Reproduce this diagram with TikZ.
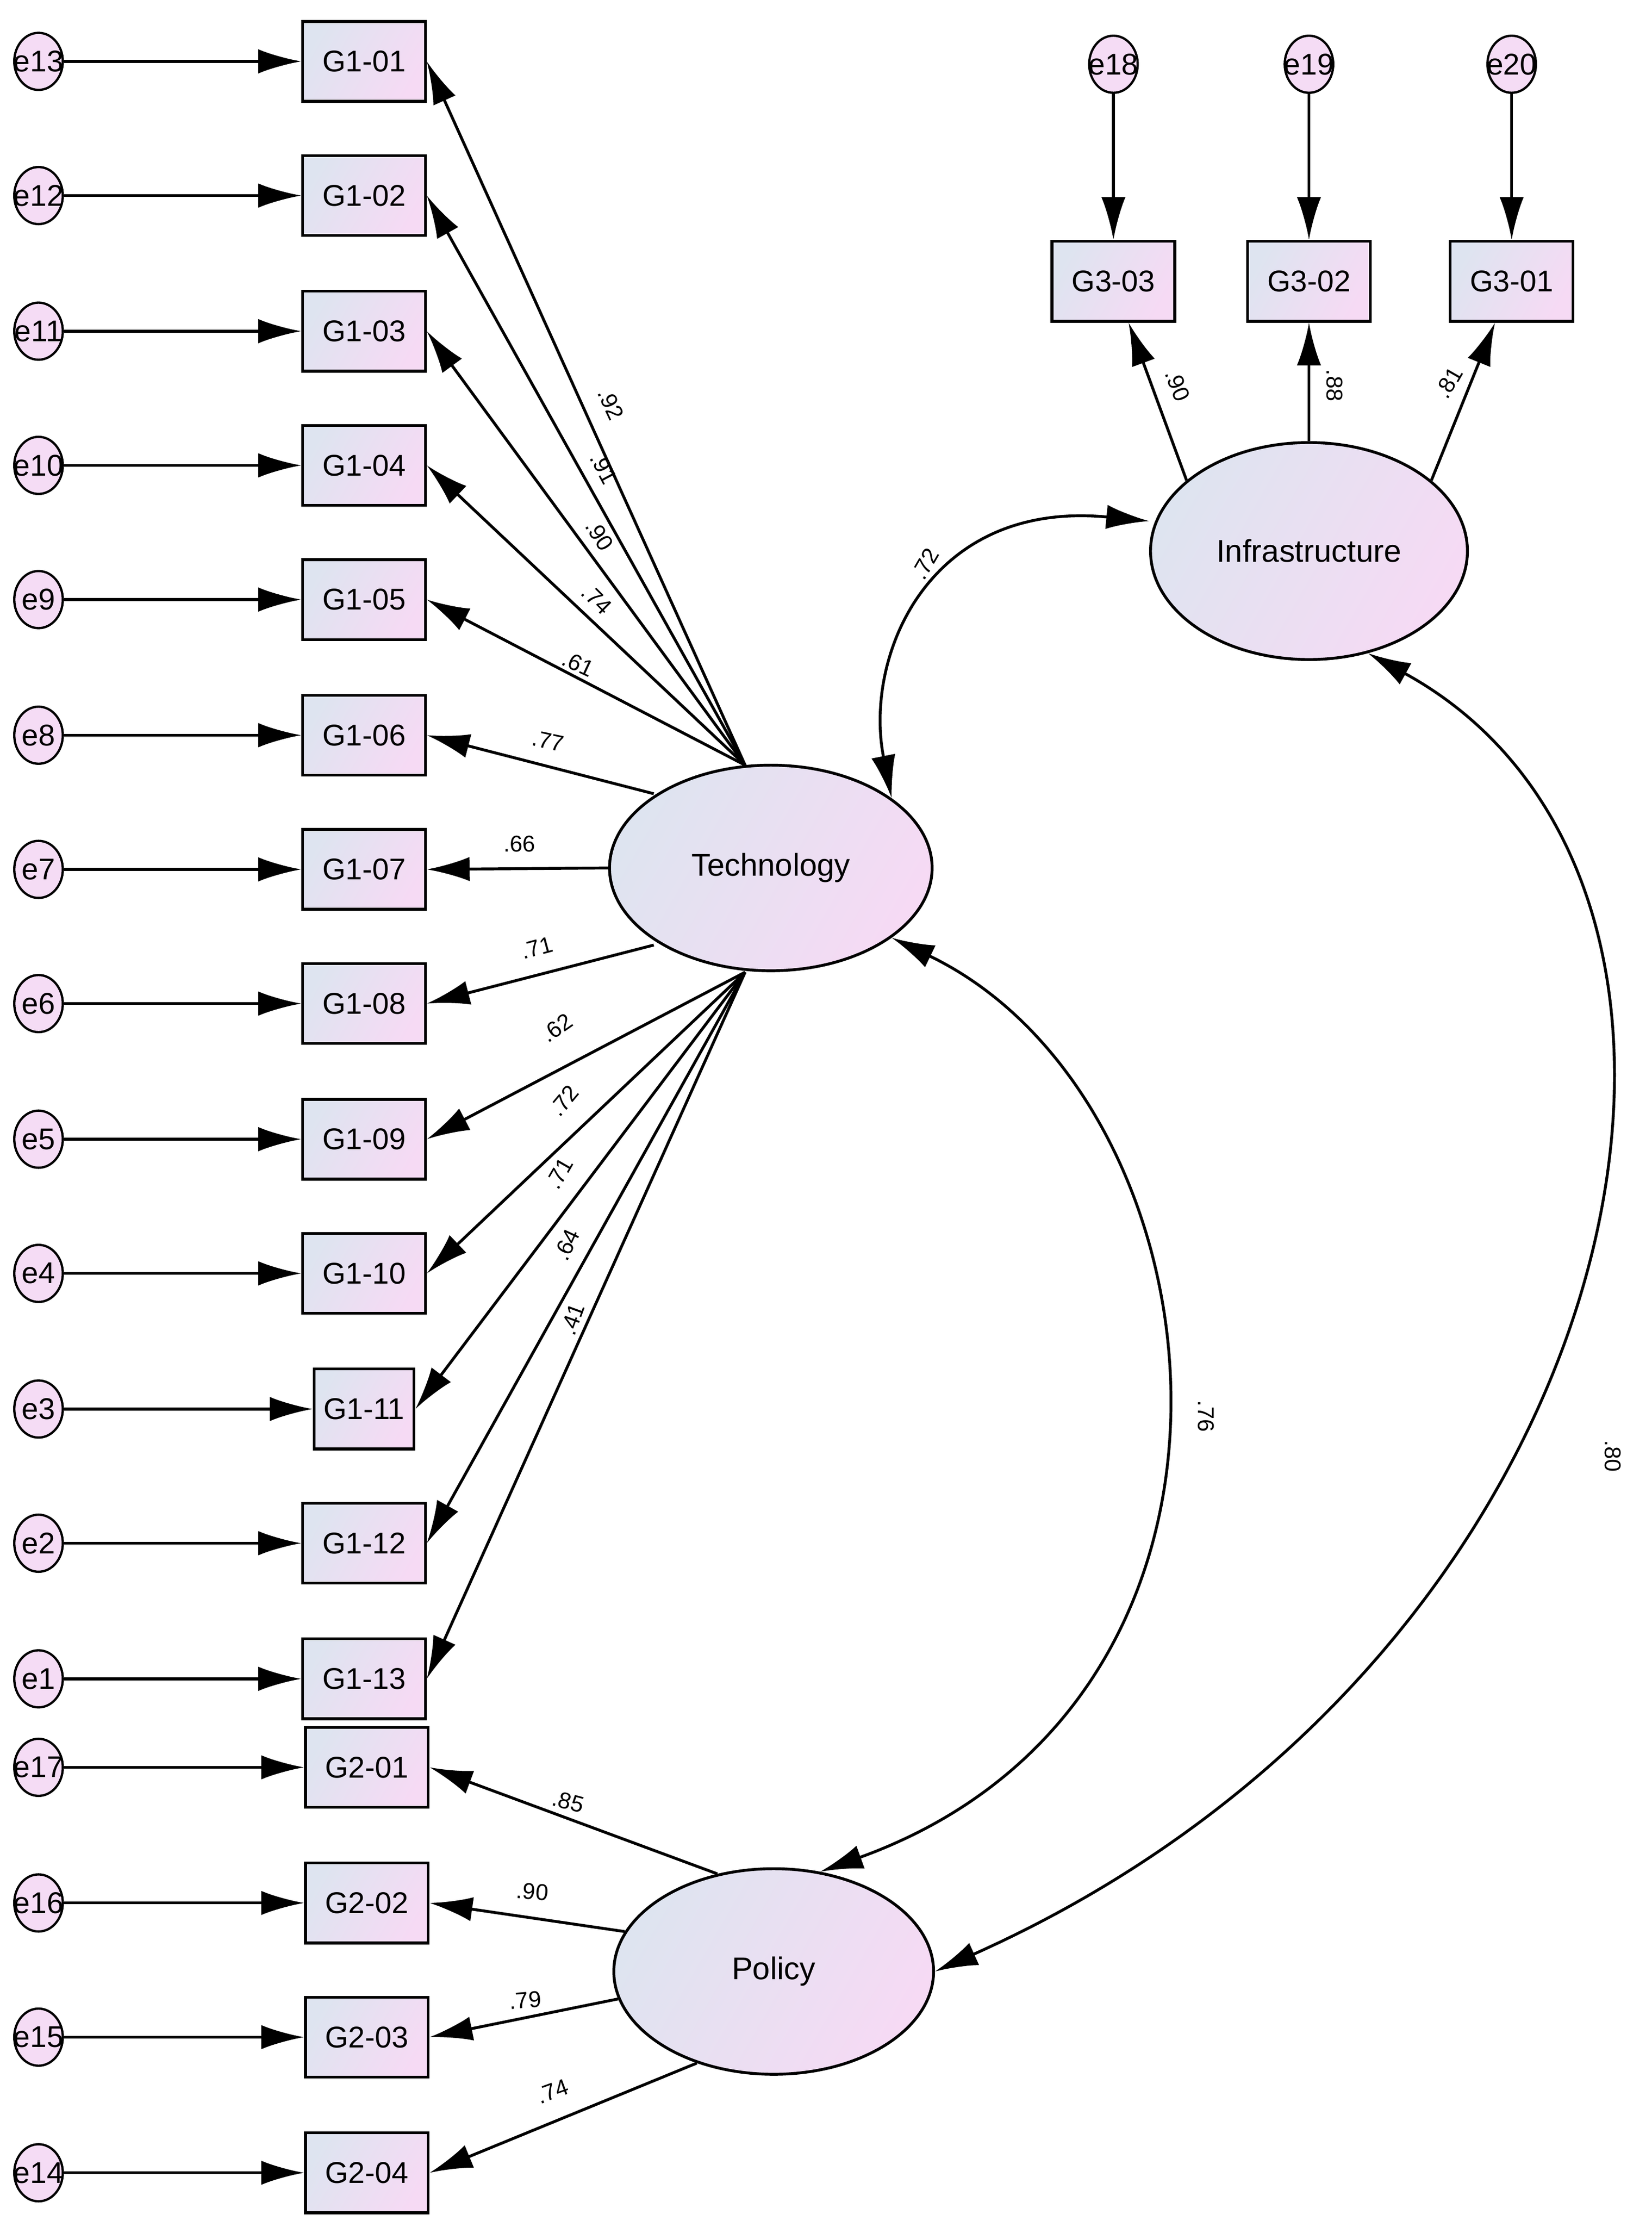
\documentclass[tikz,border=0pt]{standalone}
\usepackage{fontspec}
\setmainfont{Liberation Sans}
\usetikzlibrary{arrows.meta,shapes.geometric}
\begin{document}
\begin{tikzpicture}[x=1pt,y=-1pt,
  fs/.style={left color={rgb,255:red,222;green,228;blue,240},right color={rgb,255:red,246;green,218;blue,244},shading angle=60},
  obs/.style={draw,line width=2pt,fs,minimum width=86pt,minimum height=56pt,inner sep=0pt,font=\fontsize{21}{21}\selectfont},
  err/.style={draw,line width=1.6pt,fill={rgb,255:red,245;green,220;blue,245},ellipse,minimum width=34pt,minimum height=40pt,inner sep=0pt,label={[font=\fontsize{21}{21}\selectfont]center:#1}},
  lat/.style={draw,line width=2pt,fs,ellipse,font=\fontsize{22}{22}\selectfont},
  ar/.style={line width=2pt,-{Latex[length=30pt,width=17pt]}},
  dar/.style={line width=2pt,{Latex[length=30pt,width=17pt]}-{Latex[length=30pt,width=17pt]}},
  lb/.style={font=\fontsize{16}{16}\selectfont,inner sep=0pt}]
\useasboundingbox (0,0) rectangle (1157,1560);
% latent
\node[lat,minimum width=226pt,minimum height=144pt] (T) at (540,608) {Technology};
\node[lat,minimum width=222pt,minimum height=152pt] (I) at (917,386) {Infrastructure};
\node[lat,minimum width=224pt,minimum height=144pt] (P) at (542,1381) {Policy};
\coordinate (tu) at (522,536);
\coordinate (tl) at (522,681);
\coordinate (t6) at (458,556);
\coordinate (t7) at (427,608);
\coordinate (t8) at (458,662);
% G1
\foreach \i/\y/\e in {01/43/13,02/137/12,03/232/11,04/326/10,05/420/9,06/515/8,07/609/7,08/703/6,09/798/5,10/892/4,12/1081/2,13/1176/1}{
  \node[obs] (G1\i) at (255,\y) {G1-\i};
  \node[err=e\e] (e\e) at (27,\y) {};
  \draw[ar] (e\e) -- (G1\i);
}
\node[obs,minimum width=70pt] (G111) at (255,987) {G1-11};
\node[err=e3] (e3) at (27,987) {};
\draw[ar] (e3) -- (G111);
\foreach \i/\y/\e in {01/1238/17,02/1333/16,03/1427/15,04/1522/14}{
  \node[obs] (G2\i) at (257,\y) {G2-\i};
  \node[err=e\e] (e\e) at (27,\y) {};
  \draw[ar] (e\e) -- (G2\i);
}
% G3
\foreach \i/\x/\e in {03/780/18,02/917/19,01/1059/20}{
  \node[obs] (G3\i) at (\x,197) {G3-\i};
  \node[err=e\e] (e\e) at (\x,45) {};
  \draw[ar] (e\e) -- (G3\i);
}
% loadings technology
\foreach \i in {01,02,03,04,05}{\draw[ar] (tu) -- (G1\i.east);}
\draw[ar] (t6) -- (G106.east);
\draw[ar] (t7) -- (G107.east);
\draw[ar] (t8) -- (G108.east);
\foreach \i in {09,10,11,12,13}{\draw[ar] (tl) -- (G1\i.east);}
\node[lb,rotate=-65] (l1) at (428,283) {.92};
\node[lb,rotate=-62] (l2) at (423,328) {.91};
\node[lb,rotate=-57] (l3) at (420,375) {.90};
\node[lb,rotate=-45] (l4) at (418,420) {.74};
\node[lb,rotate=-25] (l5) at (405,465) {.61};
\node[lb,rotate=-12] (l6) at (384,519) {.77};
\node[lb] (l7) at (364,591) {.66};
\node[lb,rotate=15] (l8) at (376,664) {.71};
\node[lb,rotate=35] (l9) at (390,720) {.62};
\node[lb,rotate=50] (l10) at (395,771) {.72};
\node[lb,rotate=60] (l11) at (392,822) {.71};
\node[lb,rotate=65] (l12) at (397,872) {.64};
\node[lb,rotate=70] (l13) at (401,924) {.41};
% infrastructure
\draw[ar] (I.150) -- (G303);
\draw[ar] (I.north) -- (G302);
\draw[ar] (I.30) -- (G301);
\node[lb,rotate=-68] at (825,270) {.90};
\node[lb,rotate=-90] at (935,270) {.88};
\node[lb,rotate=60] at (1015,268) {.81};
% policy
\draw[ar] (P.120) -- (G201.east);
\draw[ar] (P.165) -- (G202.east);
\draw[ar] (P.190) -- (G203.east);
\draw[ar] (P.230) -- (G204.east);
\node[lb,rotate=-15] at (398,1262) {.85};
\node[lb,rotate=-5] at (373,1325) {.90};
\node[lb,rotate=5] at (368,1401) {.79};
\node[lb,rotate=20] at (387,1465) {.74};
% covariances
\draw[dar] (I.west |- 0,365) .. controls (650,350) and (605,460) .. (T.30);
\draw[dar] (T.-30) .. controls (860,770) and (910,1190) .. (P.65);
\draw[dar] (I.300) .. controls (1255,620) and (1150,1160) .. (P.east);
\node[lb,rotate=60] at (648,395) {.72};
\node[lb,rotate=-90] at (845,992) {.76};
\node[lb,rotate=-90] at (1130,1020) {.80};
\end{tikzpicture}
\end{document}
